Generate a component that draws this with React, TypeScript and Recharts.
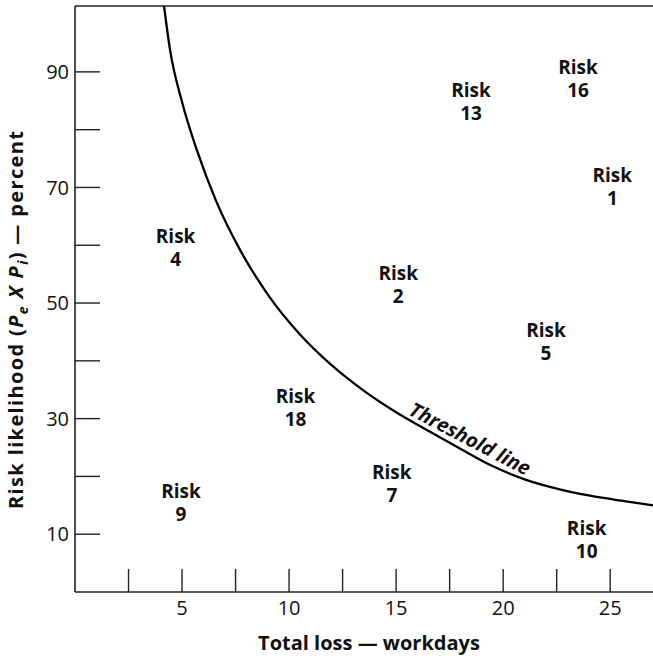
import React from "react";
import {
  ComposedChart,
  Line,
  Scatter,
  XAxis,
  YAxis,
  ReferenceLine,
} from "recharts";

// ---- data ----
const xTicks = [2.5, 5, 7.5, 10, 12.5, 15, 17.5, 20, 22.5, 25];
const xLabelTicks = [5, 10, 15, 20, 25];
const yTicks = [10, 20, 30, 40, 50, 60, 70, 80, 90];
const yLabelTicks = [10, 30, 50, 70, 90];

const riskIds = [4, 2, 18, 13, 16, 1, 5, 9, 7, 10];
const riskLoss = [4.7, 15.1, 10.3, 18.5, 23.5, 25.1, 22.0, 4.95, 14.8, 23.9];
const riskLikelihood = [59.9, 53.5, 32.2, 85.1, 89.2, 70.4, 43.6, 15.7, 19.1, 9.4];

const thresholdLoss = [4.16, 4.44, 5.0, 5.69, 6.6, 7.71, 9.0, 10.5, 12.0, 13.5, 15.0, 16.5, 18.0, 19.5, 21.0, 22.5, 24.0, 25.5, 27];
const thresholdLikelihood = [101.4, 93.8, 84.8, 76.5, 67.6, 59.2, 51.5, 44.6, 39.2, 34.8, 31.1, 27.9, 24.8, 21.8, 19.5, 17.9, 16.7, 15.8, 15.0];

const thresholdLabelText = "Threshold line";
const thresholdLabelPos = { x: 18.45, y: 26.5 };

const xDomain = [0, 27];
const yDomain = [0, 101.4];

const risks = riskIds.map((id, i) => ({ id, x: riskLoss[i], y: riskLikelihood[i] }));
const threshold = thresholdLoss.map((x, i) => ({ x, y: thresholdLikelihood[i] }));
const thresholdLabel = [{ ...thresholdLabelPos, text: thresholdLabelText }];

const FONT = "'Open Sans', sans-serif";
const AXIS = "#222";

const XTick = (props: any) => {
  const { x, y, payload } = props;
  const v = payload.value;
  return (
    <g>
      <line x1={x} x2={x} y1={y} y2={y - 23} stroke={AXIS} strokeWidth={1.4} />
      {xLabelTicks.includes(v) && (
        <text x={x} y={y + 23} textAnchor="middle" fontFamily={FONT} fontSize={20} fill="#111">
          {v}
        </text>
      )}
    </g>
  );
};

const YTick = (props: any) => {
  const { x, y, payload } = props;
  const v = payload.value;
  return (
    <g>
      <line x1={x} x2={x + 25} y1={y} y2={y} stroke={AXIS} strokeWidth={1.4} />
      {yLabelTicks.includes(v) && (
        <text x={x - 6} y={y} dy="0.36em" textAnchor="end" fontFamily={FONT} fontSize={20} fill="#111">
          {v}
        </text>
      )}
    </g>
  );
};

const RiskShape = (props: any) => {
  const { cx, cy, payload } = props;
  return (
    <text textAnchor="middle" fontFamily={FONT} fontWeight={700} fontSize={19} fill="#111">
      <tspan x={cx} y={cy - 3}>Risk</tspan>
      <tspan x={cx} y={cy + 20}>{payload.id}</tspan>
    </text>
  );
};

const ThresholdLabelShape = (props: any) => {
  const { cx, cy, payload } = props;
  return (
    <text
      x={cx}
      y={cy}
      dy="0.35em"
      textAnchor="middle"
      fontFamily={FONT}
      fontWeight={700}
      fontStyle="italic"
      fontSize={20}
      fill="#111"
      transform={`rotate(27.5, ${cx}, ${cy})`}
    >
      {payload.text}
    </text>
  );
};

const XTitle = () => (
  <text x={369} y={650} textAnchor="middle" fontFamily={FONT} fontWeight={700} fontSize={20} fill="#111">
    Total loss — workdays
  </text>
);

const YTitle = () => (
  <text
    x={23}
    y={320}
    textAnchor="middle"
    fontFamily={FONT}
    fontWeight={700}
    fontSize={20}
    fill="#111"
    textLength={378}
    lengthAdjust="spacing"
    transform="rotate(-90, 23, 320)"
  >
    Risk likelihood (
    <tspan fontStyle="italic">P</tspan>
    <tspan fontStyle="italic" fontSize={14} dy={5}>e</tspan>
    <tspan dy={-5} fontStyle="italic"> X </tspan>
    <tspan fontStyle="italic">P</tspan>
    <tspan fontStyle="italic" fontSize={14} dy={5}>i</tspan>
    <tspan dy={-5}>) — percent</tspan>
  </text>
);

export default function App() {
  return (
    <div style={{ position: "absolute", left: 0, top: 0, width: 653, height: 656, background: "#fff" }}>
      <ComposedChart width={653} height={656} margin={{ top: 6, right: 0, bottom: 0, left: 0 }}>
        <XAxis
          type="number"
          dataKey="x"
          domain={xDomain}
          ticks={xTicks}
          interval={0}
          height={64}
          tickSize={0}
          tickMargin={0}
          tickLine={false}
          axisLine={{ stroke: AXIS, strokeWidth: 1.6 }}
          tick={<XTick />}
          allowDataOverflow
          label={<XTitle />}
        />
        <YAxis
          type="number"
          dataKey="y"
          domain={yDomain}
          ticks={yTicks}
          interval={0}
          width={75}
          tickSize={0}
          tickMargin={0}
          tickLine={false}
          axisLine={{ stroke: AXIS, strokeWidth: 1.6 }}
          tick={<YTick />}
          allowDataOverflow
          label={<YTitle />}
        />
        <ReferenceLine y={yDomain[1]} stroke={AXIS} strokeWidth={1.6} />
        <Line
          data={threshold}
          dataKey="y"
          type="monotone"
          dot={false}
          stroke="#000"
          strokeWidth={2.3}
          isAnimationActive={false}
        />
        <Scatter data={risks} dataKey="y" shape={<RiskShape />} isAnimationActive={false} />
        <Scatter data={thresholdLabel} dataKey="y" shape={<ThresholdLabelShape />} isAnimationActive={false} />
      </ComposedChart>
    </div>
  );
}
